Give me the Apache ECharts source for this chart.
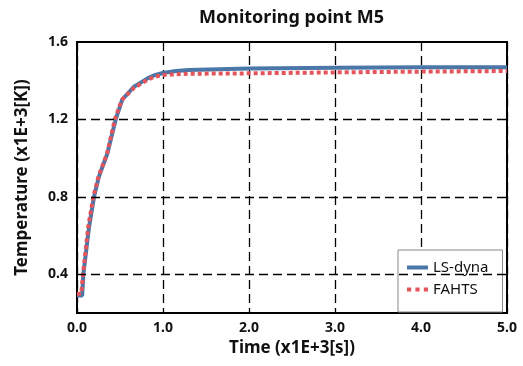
<!DOCTYPE html>
<html>
<head>
<meta charset="utf-8">
<script src="https://cdn.jsdelivr.net/npm/echarts@6/dist/echarts.min.js"></script>
<style>
  html, body { margin: 0; padding: 0; background: #fff; }
  #main { width: 523px; height: 366px; }
</style>
</head>
<body>
<div id="main"></div>
<script>
// 数据
var timeBlue = [0, 0.06, 0.074, 0.14, 0.198, 0.256, 0.353, 0.45, 0.527, 0.663, 0.82, 0.9, 1.0, 1.15, 1.3, 2.0, 3.0, 4.0, 5.0];
var lsDyna = [0.29, 0.29, 0.4, 0.644, 0.8, 0.906, 1.024, 1.2, 1.303, 1.369, 1.412, 1.428, 1.44, 1.45, 1.455, 1.463, 1.467, 1.469, 1.47];

var timeRed = [0, 0.05, 0.07, 0.13, 0.19, 0.25, 0.35, 0.44, 0.52, 0.66, 0.82, 0.9, 1.0, 1.3, 2.0, 3.0, 4.0, 5.0];
var fahts = [0.3, 0.3, 0.4, 0.644, 0.8, 0.906, 1.024, 1.2, 1.3, 1.362, 1.405, 1.42, 1.43, 1.436, 1.438, 1.443, 1.447, 1.45];

var yGrid = [0.4, 0.8, 1.2];

function pairs(xs, ys) {
    var out = [];
    for (var i = 0; i < xs.length; i++) out.push([xs[i], ys[i]]);
    return out;
}

var font = 'Noto Sans';
var myChart = echarts.init(document.getElementById('main'));

var option = {
    animation: false,
    title: {
        text: 'Monitoring point M5',
        left: 194,
        top: 4,
        textStyle: { fontFamily: font, fontSize: 18, fontWeight: 'bold', color: '#111' }
    },
    grid: {
        left: 77, right: 16, top: 42, bottom: 53,
        show: true, borderColor: '#000', borderWidth: 2
    },
    legend: {
        left: 398, top: 250,
        orient: 'vertical',
        itemWidth: 21, itemHeight: 14, itemGap: 7,
        padding: [10, 14, 15, 9],
        borderColor: '#888', borderWidth: 1,
        backgroundColor: '#fff',
        textStyle: { fontFamily: font, fontSize: 15, color: '#111' },
        data: [
            { name: 'LS-dyna', icon: 'path://M0,0h21v4h-21z' },
            { name: 'FAHTS', icon: 'path://M0,0h4v4h-4z M8,0h4v4h-4z M16,0h4v4h-4z' }
        ]
    },
    xAxis: {
        type: 'value', min: 0, max: 5, interval: 1,
        name: 'Time (x1E+3[s])', nameLocation: 'middle', nameGap: 27,
        nameTextStyle: { fontFamily: font, fontSize: 17, fontWeight: 'bold', color: '#111' },
        axisLine: { show: true, lineStyle: { color: '#000', width: 2 } },
        axisTick: { show: false },
        axisLabel: {
            fontFamily: font, fontSize: 14, fontWeight: 'bold', color: '#111', margin: 8,
            formatter: function (v) { return v.toFixed(1); }
        },
        splitLine: { show: true, lineStyle: { color: '#000', width: 1.3, type: [9, 5] } }
    },
    yAxis: {
        type: 'value', min: 0.2, max: 1.6, interval: 0.2,
        name: 'Temperature (x1E+3[K])', nameLocation: 'middle', nameGap: 46, nameRotate: 90,
        nameTextStyle: { fontFamily: font, fontSize: 17, fontWeight: 'bold', color: '#111' },
        axisLine: { show: true, lineStyle: { color: '#000', width: 2 } },
        axisTick: { show: false },
        axisLabel: {
            fontFamily: font, fontSize: 14, fontWeight: 'bold', color: '#111', margin: 9,
            formatter: function (v) {
                return Math.round(v * 10) % 4 === 0 ? v.toFixed(1) : '';
            }
        },
        splitLine: { show: false }
    },
    series: [
        {
            // 网格虚线
            name: 'grid', type: 'line', data: [[0, 0.2]], symbol: 'none',
            lineStyle: { opacity: 0 }, silent: true,
            markLine: {
                silent: true, symbol: 'none', label: { show: false },
                lineStyle: { color: '#000', width: 1.3, type: [9, 5] },
                data: yGrid.map(function (v) { return { yAxis: v }; })
            }
        },
        {
            name: 'LS-dyna', type: 'line', data: pairs(timeBlue, lsDyna),
            showSymbol: false, symbol: 'none',
            lineStyle: { color: '#4a76a8', width: 4 },
            itemStyle: { color: '#4a76a8' }
        },
        {
            name: 'FAHTS', type: 'line', data: pairs(timeRed, fahts),
            showSymbol: false, symbol: 'none',
            lineStyle: { color: '#e5545a', width: 4, type: [4, 3] },
            itemStyle: { color: '#e5545a' }
        }
    ]
};
myChart.setOption(option);
</script>
</body>
</html>
